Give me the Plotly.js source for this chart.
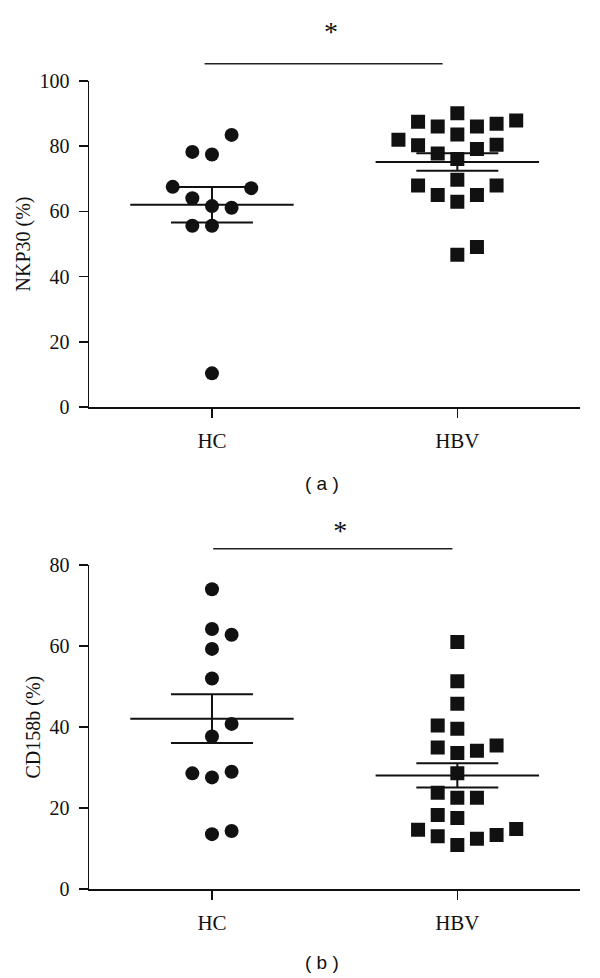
<!DOCTYPE html>
<html><head><meta charset="utf-8">
<script src="https://cdn.plot.ly/plotly-3.0.1.min.js"></script>
<style>html,body{margin:0;padding:0;background:#fff;}#chart{width:600px;height:978px;}</style>
</head><body><div id="chart"></div>
<script>
// ---------- data ----------
const groups = ['HC', 'HBV'];
const panelLabels = ['( a )', '( b )'];
const yTitles = ['NKP30 (%)', 'CD158b (%)'];
const yTicksA = [0, 20, 40, 60, 80, 100];
const yTicksB = [0, 20, 40, 60, 80];

// Panel (a) NKP30
const nkp30HC  = [83.4, 78.2, 77.4, 67.5, 67.1, 64.0, 61.6, 61.1, 55.6, 55.6, 10.4];
const nkp30HBV = [90.0, 87.4, 86.0, 86.0, 86.8, 87.8, 83.5, 81.9, 80.2, 80.4, 79.1, 77.7, 76.0, 67.9, 69.7, 67.9, 65.0, 65.0, 62.9, 46.7, 49.1];
const nkp30Mean = [62.0, 75.1];
const nkp30SEM  = [5.45, 2.65];
const nkp30Sig  = {from: 0.97, to: 1.94, level: 105.2, label: '*', labelLevel: 114.2};

// Panel (b) CD158b
const cd158bHC  = [74.0, 64.2, 62.8, 59.3, 52.0, 40.8, 37.7, 28.6, 27.6, 29.0, 13.6, 14.4];
const cd158bHBV = [61.0, 51.3, 45.8, 40.4, 39.6, 35.0, 33.6, 34.2, 35.5, 28.6, 23.8, 22.6, 22.6, 18.3, 17.6, 14.7, 13.1, 10.9, 12.5, 13.4, 14.9];
const cd158bMean = [42.1, 28.1];
const cd158bSEM  = [6.0, 3.0];
const cd158bSig  = {from: 1.005, to: 1.98, level: 84.0, label: '*', labelLevel: 88.0};

// ---------- dot-plot column positions (layout of the scatter, not data) ----------
const colA_HC  = [1, -1, 0, -2, 2, -1, 0, 1, -1, 0, 0];
const colA_HBV = [0, -2, -1, 1, 2, 3, 0, -3, -2, 2, 1, -1, 0, -2, 0, 2, -1, 1, 0, 0, 1];
const colB_HC  = [0, 0, 1, 0, 0, 1, 0, -1, 0, 1, 0, 1];
const colB_HBV = [0, 0, 0, -1, 0, -1, 0, 1, 2, 0, -1, 0, 1, -1, 0, -2, -1, 0, 1, 2, 3];

// ---------- style / geometry ----------
const W = 600, H = 978;
const STEP = 0.08, MEAN_HALF = 0.333, SEM_HALF = 0.167;
const INK = '#111';
const SERIF = '"Liberation Serif", "Times New Roman", serif';
const SANS = '"Liberation Sans", Arial, sans-serif';
const xDom = [89.3 / W, 580 / W];
const yDomA = [(H - 407.3) / H, (H - 80.7) / H];
const yDomB = [(H - 889.3) / H, (H - 565) / H];
const auxTopA = (H - 14) / H;
const auxTopB = (H - 512) / H;

function pts(vals, cols, g, symbol, xa, ya) {
  return {
    type: 'scatter', mode: 'markers', xaxis: xa, yaxis: ya,
    x: vals.map((v, i) => g + cols[i] * STEP), y: vals,
    marker: {symbol: symbol, size: 14, color: INK, line: {width: 0}},
    hoverinfo: 'skip', showlegend: false
  };
}
function meanSem(means, sems, xa, ya) {
  const x = [], y = [];
  means.forEach((m, i) => {
    const g = i + 1, s = sems[i];
    x.push(g - MEAN_HALF, g + MEAN_HALF, null, g - SEM_HALF, g + SEM_HALF, null,
           g - SEM_HALF, g + SEM_HALF, null, g, g, null);
    y.push(m, m, null, m + s, m + s, null, m - s, m - s, null, m + s, m - s, null);
  });
  return {type: 'scatter', mode: 'lines', xaxis: xa, yaxis: ya, x: x, y: y,
          line: {color: INK, width: 2}, hoverinfo: 'skip', showlegend: false};
}
function sig(s, xa, ya) {
  return [
    {type: 'scatter', mode: 'lines', xaxis: xa, yaxis: ya, x: [s.from, s.to], y: [s.level, s.level],
     line: {color: '#222', width: 1.6}, hoverinfo: 'skip', showlegend: false},
    {type: 'scatter', mode: 'text', xaxis: xa, yaxis: ya, x: [(s.from + s.to) / 2 + 0.03], y: [s.labelLevel],
     text: [s.label], textposition: 'middle center',
     textfont: {family: SERIF, size: 28, color: INK}, hoverinfo: 'skip', showlegend: false}
  ];
}

const traces = [
  pts(nkp30HC, colA_HC, 1, 'circle', 'x', 'y'),
  pts(nkp30HBV, colA_HBV, 2, 'square', 'x', 'y'),
  meanSem(nkp30Mean, nkp30SEM, 'x', 'y'),
  ...sig(nkp30Sig, 'x3', 'y3'),
  pts(cd158bHC, colB_HC, 1, 'circle', 'x2', 'y2'),
  pts(cd158bHBV, colB_HBV, 2, 'square', 'x2', 'y2'),
  meanSem(cd158bMean, cd158bSEM, 'x2', 'y2'),
  ...sig(cd158bSig, 'x4', 'y4')
];

function xAxis(anchor) {
  return {domain: xDom, anchor: anchor, range: [0.5, 2.5], tickvals: [1, 2], ticktext: groups,
    showline: true, linecolor: INK, linewidth: 1.8, ticks: 'outside', ticklen: 9, tickwidth: 1.6,
    tickcolor: INK, showgrid: false, zeroline: false, ticklabelstandoff: 5,
    tickfont: {family: SERIF, size: 21, color: INK}, fixedrange: true};
}
function yAxis(anchor, dom, top, ticks, title) {
  return {domain: dom, anchor: anchor, range: [0, top], tickvals: ticks,
    showline: true, linecolor: INK, linewidth: 1.8, ticks: 'outside', ticklen: 9, tickwidth: 1.6,
    tickcolor: INK, showgrid: false, zeroline: false, ticklabelstandoff: 5,
    tickfont: {family: SERIF, size: 20, color: INK},
    title: {text: title, font: {family: SERIF, size: 20, color: INK}, standoff: 3}, fixedrange: true};
}
function auxY(anchor, dom, top, auxTop) {
  const r = top * (auxTop - dom[0]) / (dom[1] - dom[0]);
  return {domain: [dom[0], auxTop], anchor: anchor, range: [0, r], visible: false, fixedrange: true};
}
function auxX(anchor) {
  return {domain: xDom, anchor: anchor, range: [0.5, 2.5], visible: false, fixedrange: true};
}

const layout = {
  width: W, height: H, margin: {l: 0, r: 0, t: 0, b: 0},
  paper_bgcolor: '#fff', plot_bgcolor: 'rgba(0,0,0,0)', showlegend: false,
  xaxis: xAxis('y'), yaxis: yAxis('x', yDomA, 100, yTicksA, yTitles[0]),
  xaxis2: xAxis('y2'), yaxis2: yAxis('x2', yDomB, 80, yTicksB, yTitles[1]),
  xaxis3: auxX('y3'), yaxis3: auxY('x3', yDomA, 100, auxTopA),
  xaxis4: auxX('y4'), yaxis4: auxY('x4', yDomB, 80, auxTopB),
  annotations: [
    {text: panelLabels[0], xref: 'paper', yref: 'paper', x: 321.7 / W, y: (H - 484) / H,
     showarrow: false, xanchor: 'center', yanchor: 'middle',
     font: {family: SANS, size: 19, color: INK}},
    {text: panelLabels[1], xref: 'paper', yref: 'paper', x: 322 / W, y: (H - 962) / H,
     showarrow: false, xanchor: 'center', yanchor: 'middle',
     font: {family: SANS, size: 19, color: INK}}
  ]
};

Plotly.newPlot('chart', traces, layout, {staticPlot: true, displayModeBar: false});
</script>
</body></html>
